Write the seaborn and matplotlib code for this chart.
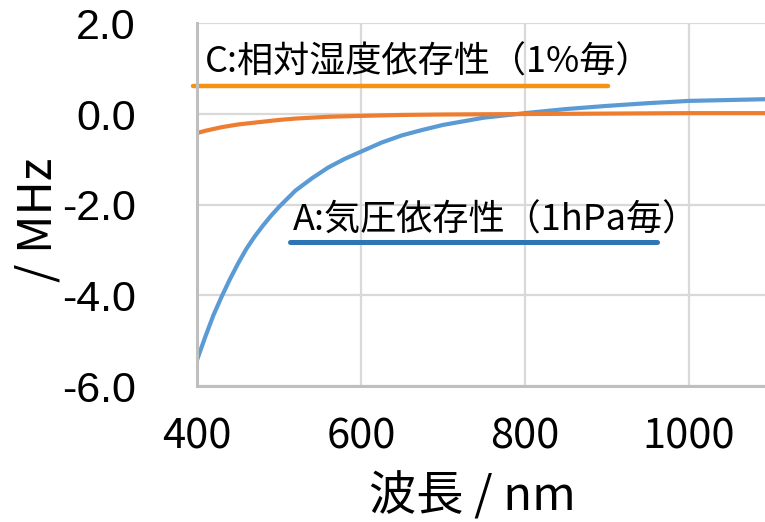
import numpy as np
import pandas as pd
import seaborn as sns
import matplotlib.pyplot as plt

# values (wavelength in nm, change in MHz)
wavelength = [400, 410, 420, 430, 440, 450, 460, 470, 480, 490, 500, 520, 540, 560,
              580, 600, 625, 650, 675, 700, 750, 800, 850, 900, 950, 1000, 1050, 1100]
pressure_A = [-5.43, -4.92, -4.44, -4.03, -3.65, -3.30, -2.98, -2.71, -2.47, -2.25,
              -2.05, -1.69, -1.42, -1.18, -0.99, -0.83, -0.63, -0.47, -0.35, -0.24,
              -0.08, 0.02, 0.11, 0.18, 0.24, 0.29, 0.31, 0.33]
humidity_C = [-0.42, -0.37, -0.33, -0.29, -0.26, -0.23, -0.21, -0.19, -0.17, -0.15,
              -0.13, -0.10, -0.08, -0.06, -0.05, -0.04, -0.03, -0.02, -0.015, -0.01,
              -0.005, 0.0, 0.005, 0.01, 0.015, 0.02, 0.02, 0.02]

label_A = "A:気圧依存性（1hPa毎）"
label_C = "C:相対湿度依存性（1%毎）"

df = pd.DataFrame({"wavelength": wavelength, "A": pressure_A, "C": humidity_C})

sns.set_style("white")
plt.rcParams['font.family'] = ['Noto Sans CJK JP', 'DejaVu Sans']
for key in ['text.color', 'axes.labelcolor', 'xtick.color', 'ytick.color']:
    plt.rcParams[key] = 'black'

fig = plt.figure(figsize=(7.65, 5.22), dpi=100)
ax = fig.add_axes([0.2575, 0.2605, 0.7503, 0.6947])

sns.lineplot(data=df, x="wavelength", y="A", color="#5B9BD5", linewidth=3.0, ax=ax)
sns.lineplot(data=df, x="wavelength", y="C", color="#ED7D31", linewidth=3.0, ax=ax)

ax.set_xlim(400, 1100)
ax.set_ylim(-6, 2)
ax.set_xticks([400, 600, 800, 1000])
ax.set_yticks([2, 0, -2, -4, -6])
ax.set_yticklabels(["2.0", "0.0", "-2.0", "-4.0", "-6.0"], family="Liberation Sans", fontsize=31)
ax.set_xticklabels(["400", "600", "800", "1000"], fontsize=30)
ax.tick_params(axis='y', length=0, pad=44)
ax.tick_params(axis='x', length=0, pad=22)

ax.grid(True, color="#D9D9D9", linewidth=1.6)
ax.set_axisbelow(True)
for pos in ['right', 'top']:
    ax.spines[pos].set_visible(False)
for pos in ['left', 'bottom']:
    ax.spines[pos].set_color("#BFBFBF")
    ax.spines[pos].set_linewidth(2.2)

ax.set_xlabel("波長 / nm", fontsize=34, va="center")
ax.xaxis.set_label_coords(0.479, -0.306)
ax.set_ylabel("/ MHz", fontsize=34, va="center")
ax.yaxis.set_label_coords(-0.277, 0.458)

# series labels with coloured underlines
ax.text(410, 1.13, label_C, fontsize=26, va="center", ha="left")
ax.plot([395, 901], [0.62, 0.62], color="#F5920F", linewidth=3.2, clip_on=False)
ax.text(517, -2.34, label_A, fontsize=26, va="center", ha="left")
ax.plot([513, 961], [-2.83, -2.83], color="#2E75B6", linewidth=3.6, clip_on=False)

plt.savefig("out.png", dpi=100)
